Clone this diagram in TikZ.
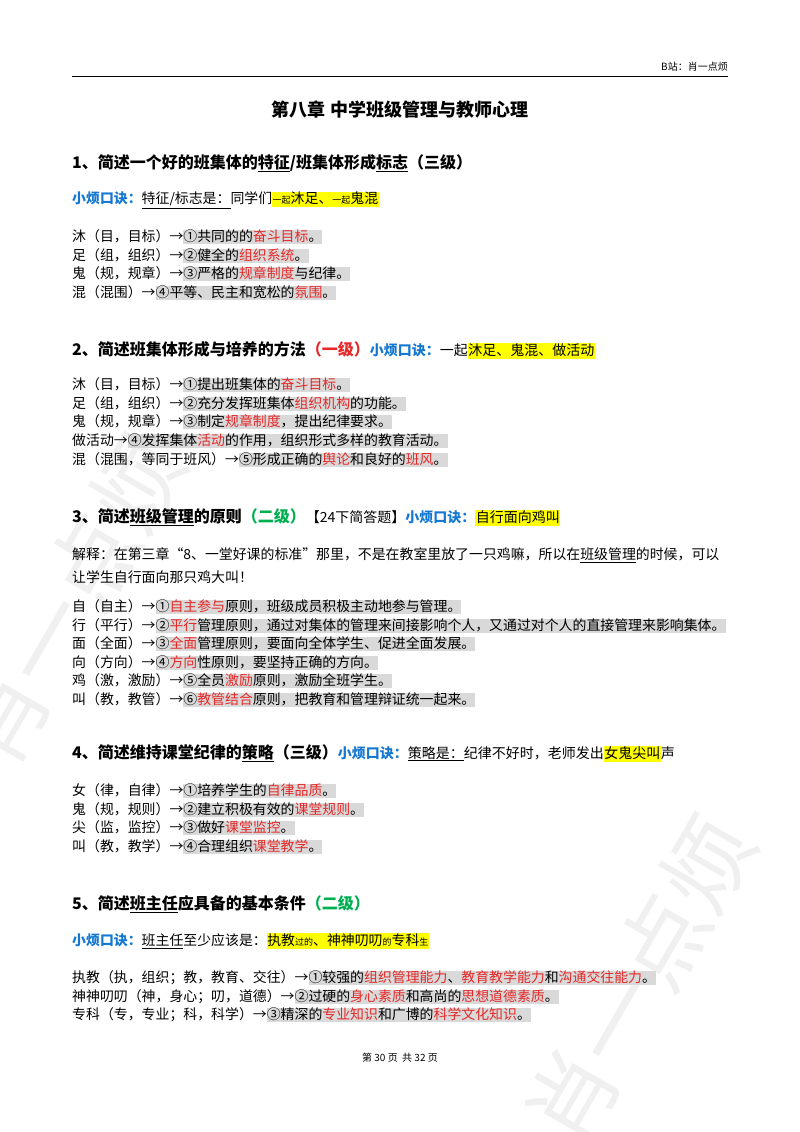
\documentclass[tikz,border=0pt]{standalone}
\usepackage{fontspec}
\usepackage{xcolor}
\setmainfont{Noto Sans CJK SC}
\definecolor{hlg}{RGB}{217,217,217}
\definecolor{hly}{RGB}{255,255,0}
\definecolor{rd}{RGB}{230,40,40}
\definecolor{bl}{RGB}{20,120,210}
\definecolor{gn}{RGB}{0,176,80}
\newcommand{\hbstrut}{\rule[-3pt]{0pt}{14pt}}
\newcommand{\hg}[1]{{\setlength{\fboxsep}{0pt}\colorbox{hlg}{\hbstrut #1}}}
\newcommand{\hy}[1]{{\setlength{\fboxsep}{0.5pt}\colorbox{hly}{\hbstrut #1}}}
\newcommand{\R}[1]{\textcolor{rd}{#1}}
\newcommand{\sm}[1]{{\fontsize{9}{10}\selectfont #1}}
\newcommand{\ul}[1]{\underline{#1}}
\newcommand{\nm}{\mdseries\fontsize{14}{16}\selectfont}
\begin{document}
\begin{tikzpicture}[x=1pt,y=-1pt,
 tx/.style={anchor=west,inner sep=0pt,font=\fontsize{13.9}{16}\selectfont},
 hd/.style={anchor=west,inner sep=0pt,font=\fontsize{16}{19}\selectfont\bfseries},
 wm/.style={text=black!6,font=\fontsize{90}{90}\selectfont,rotate=60}]
\useasboundingbox (0,0) rectangle (800,1132);
\fill[white] (0,0) rectangle (800,1132);
\node[wm] (w1) at (70,600) {肖一点烦};
\node[wm] (w2) at (640,980) {肖一点烦};
\node[anchor=east,inner sep=0pt,font=\fontsize{10}{12}\selectfont] (hdr) at (728,67) {B站：肖一点烦};
\draw[line width=0.6pt] (72,76) -- (728,76);
\node[inner sep=0pt,font=\fontsize{18}{22}\selectfont\bfseries] (title) at (400,110) {第八章\ 中学班级管理与教师心理};
% section 1
\node[hd] (s1) at (72,163) {1、简述一个好的班集体的\ul{特征}/班集体形成\ul{标志}（三级）};
\node[tx] (k1) at (72,200) {\textcolor{bl}{\textbf{小烦口诀：}}\ul{特征/标志是：}同学们\hy{\sm{一起}沐足、\sm{一起}鬼混}};
\node[tx] (a1) at (72,237) {沐（目，目标）→\hg{①共同的的\R{奋斗目标}。}};
\node[tx] (a2) at (72,256) {足（组，组织）→\hg{②健全的\R{组织系统}。}};
\node[tx] (a3) at (72,274) {鬼（规，规章）→\hg{③严格的\R{规章制度}与纪律。}};
\node[tx] (a4) at (72,293) {混（混围）→\hg{④平等、民主和宽松的\R{氛围}。}};
% section 2
\node[hd] (s2) at (72,350) {2、简述班集体形成与培养的方法\textcolor{rd}{（一级）}{\fontsize{14}{16}\selectfont\textcolor{bl}{小烦口诀：}\nm 一起\hy{沐足、鬼混、做活动}}};
\node[tx] (b1) at (72,385) {沐（目，目标）→\hg{①提出班集体的\R{奋斗目标}。}};
\node[tx] (b2) at (72,404) {足（组，组织）→\hg{②充分发挥班集体\R{组织机构}的功能。}};
\node[tx] (b3) at (72,422) {鬼（规，规章）→\hg{③制定\R{规章制度}，提出纪律要求。}};
\node[tx] (b4) at (72,441) {做活动→\hg{④发挥集体\R{活动}的作用，组织形式多样的教育活动。}};
\node[tx] (b5) at (72,460) {混（混围，等同于班风）→\hg{⑤形成正确的\R{舆论}和良好的\R{班风}。}};
% section 3
\node[hd] (s3) at (72,517) {3、简述\ul{班级管理}的原则\textcolor{gn}{（二级）}{\nm【24下简答题】\bfseries\textcolor{bl}{小烦口诀：}\mdseries\hy{自行面向鸡叫}}};
\node[tx] (e1) at (72,555) {解释：在第三章“8、一堂好课的标准”那里，不是在教室里放了一只鸡嘛，所以在\ul{班级管理}的时候，可以};
\node[tx] (e2) at (72,577) {让学生自行面向那只鸡大叫！};
\node[tx] (c1) at (72,607) {自（自主）→\hg{①\R{自主参与}原则，班级成员积极主动地参与管理。}};
\node[tx] (c2) at (72,626) {行（平行）→\hg{②\R{平行}管理原则，通过对集体的管理来间接影响个人，又通过对个人的直接管理来影响集体。}};
\node[tx] (c3) at (72,644) {面（全面）→\hg{③\R{全面}管理原则，要面向全体学生、促进全面发展。}};
\node[tx] (c4) at (72,663) {向（方向）→\hg{④\R{方向}性原则，要坚持正确的方向。}};
\node[tx] (c5) at (72,681) {鸡（激，激励）→\hg{⑤全员\R{激励}原则，激励全班学生。}};
\node[tx] (c6) at (72,700) {叫（教，教管）→\hg{⑥\R{教管结合}原则，把教育和管理辩证统一起来。}};
% section 4
\node[hd] (s4) at (72,753) {4、简述维持课堂纪律的\ul{策略}（三级）{\fontsize{14}{16}\selectfont\textcolor{bl}{小烦口诀：}\nm\ul{策略是：}纪律不好时，老师发出\hy{女鬼尖叫}声}};
\node[tx] (d1) at (72,791) {女（律，自律）→\hg{①培养学生的\R{自律品质}。}};
\node[tx] (d2) at (72,810) {鬼（规，规则）→\hg{②建立积极有效的\R{课堂规则}。}};
\node[tx] (d3) at (72,828) {尖（监，监控）→\hg{③做好\R{课堂监控}。}};
\node[tx] (d4) at (72,847) {叫（教，教学）→\hg{④合理组织\R{课堂教学}。}};
% section 5
\node[hd] (s5) at (72,904) {5、简述\ul{班主任}应具备的基本条件\textcolor{gn}{（二级）}};
\node[tx] (k5) at (72,941) {\textcolor{bl}{\textbf{小烦口诀：}}\ul{班主任}至少应该是：\hy{执教\sm{过的}、神神叨叨\sm{的}专科\sm{生}}};
\node[tx] (f1) at (72,978) {执教（执，组织；教，教育、交往）→\hg{①较强的\R{组织管理能力}、\R{教育教学能力}和\R{沟通交往能力}。}};
\node[tx] (f2) at (72,997) {神神叨叨（神，身心；叨，道德）→\hg{②过硬的\R{身心素质}和高尚的\R{思想道德素质}。}};
\node[tx] (f3) at (72,1015) {专科（专，专业；科，科学）→\hg{③精深的\R{专业知识}和广博的\R{科学文化知识}。}};
\node[inner sep=0pt,font=\fontsize{10}{12}\selectfont] (foot) at (400,1058) {第\ 30\ 页\ \ 共\ 32\ 页};
\end{tikzpicture}
\end{document}
